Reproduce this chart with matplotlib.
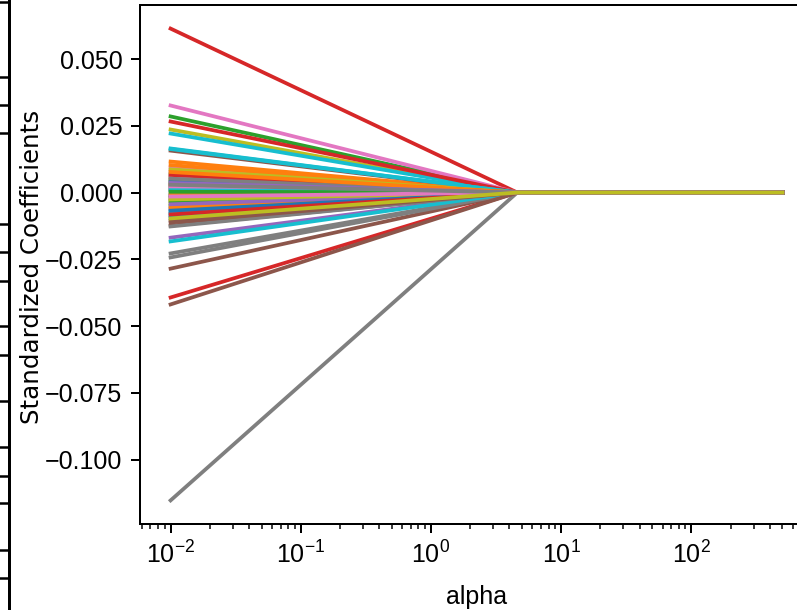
import numpy as np
import matplotlib
matplotlib.use("Agg")
import matplotlib.pyplot as plt
from matplotlib.lines import Line2D

plt.rcParams["font.family"] = ["Liberation Sans", "DejaVu Sans"]

# alpha grid of the lasso path (coefficients are all zero from the 2nd alpha on)
alphas = [0.01, 4.6, 500.0]

# standardized coefficients at the smallest alpha, one per feature
coefs_start = [
    -0.0094, 0.0116, 0.0285, 0.0614, -0.0169, 0.0157, 0.0326, -0.1153, 0.0236, 0.0221,
    -0.0079, 0.0049, 0.0071, 0.0266, -0.0021, -0.0124, 0.0094, -0.0228, 0.0015, 0.0165,
    -0.0086, -0.0030, 0.0058, -0.0393, 0.0008, -0.0285, 0.0081, -0.0243, -0.0040, -0.0183,
    0.0022, 0.0103, -0.0050, -0.0012, -0.0061, -0.0419, -0.0064, -0.0127, 0.0031, 0.0163,
    -0.0009, -0.0056, 0.0040, 0.0027, 0.0012, 0.0034, 0.0062, -0.0019, 0.0087, -0.0072,
    0.0045, -0.0004, -0.0033, 0.0066, -0.0044, -0.0105, 0.0018, 0.0052, -0.0026, 0.0009,
    -0.0068, 0.0077, 0.0003, -0.0082, 0.0036, -0.0112, -0.0015, 0.0029, -0.0097,
]

# stray marks along the left edge of the screenshot (pixel rows)
edge_marks = [2, 77, 105, 133, 224, 252, 281, 326, 355, 401, 447, 476, 503, 550, 578]

W, H = 797, 610
fig = plt.figure(figsize=(W / 180, H / 180), dpi=180)
ax = fig.add_axes([140 / W, 1 - 524 / H, 673 / W, 519 / H])

coefs = np.vstack([coefs_start, np.zeros(len(coefs_start)), np.zeros(len(coefs_start))])
ax.plot(alphas, coefs)
ax.set_xscale("log")
ax.set_xlabel("alpha", labelpad=6.5)
ax.set_ylabel("Standardized Coefficients", family="DejaVu Sans", fontsize=9.8)
ax.yaxis.set_label_coords(-0.143, 0.495)

# screenshot edge artefact
fig.add_artist(Line2D([9 / W, 9 / W], [0, 1], color="black", lw=1.2, transform=fig.transFigure))
for y in edge_marks:
    fig.add_artist(Line2D([0, 9 / W], [1 - y / H, 1 - y / H], color="black", lw=1.0,
                          transform=fig.transFigure))

fig.savefig("out.png", dpi=180)
